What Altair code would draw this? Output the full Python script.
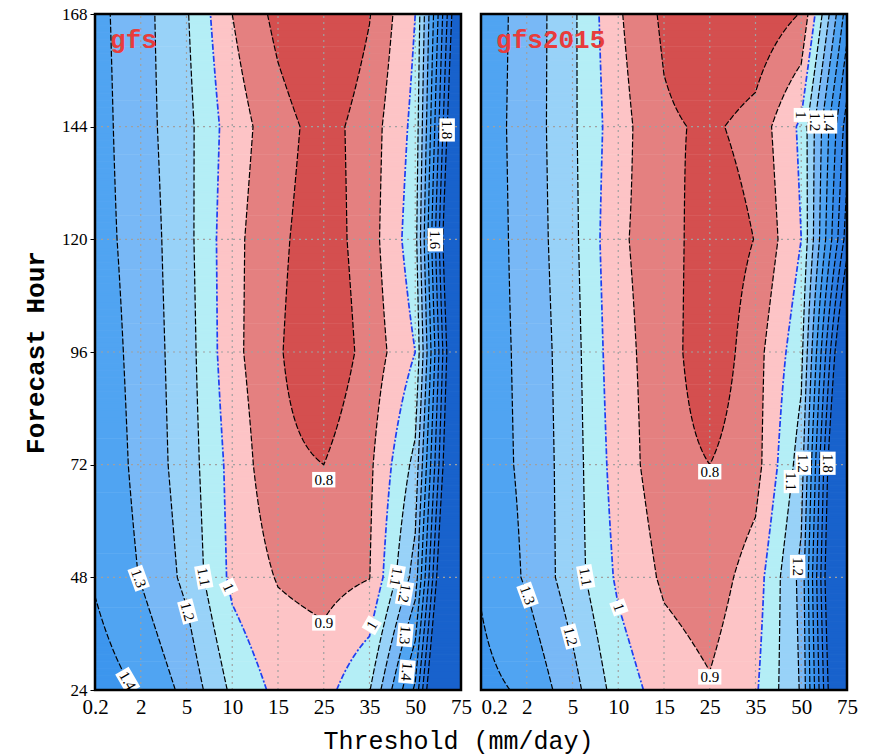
import json
from collections import defaultdict

import numpy as np
import pandas as pd
import altair as alt

alt.data_transformers.disable_max_rows()

# ---------------- data ----------------
threshold_labels = ["0.2", "2", "5", "10", "15", "25", "35", "50", "75"]
forecast_hours = [24, 48, 72, 96, 120, 144, 168]

# panel "gfs": one list per forecast hour, values at each threshold
gfs_f024 = [1.45, 1.39, 1.271, 1.079, 0.974, 0.963, 1.094, 1.52, 2.64]
gfs_f048 = [1.39, 1.295, 1.176, 0.975, 0.893, 0.862, 0.897, 1.245, 2.43]
gfs_f072 = [1.38, 1.27, 1.153, 0.965, 0.824, 0.80, 0.88, 1.13, 2.23]
gfs_f096 = [1.362, 1.262, 1.145, 0.93, 0.81, 0.72, 0.838, 1.0, 2.16]
gfs_f120 = [1.34, 1.257, 1.133, 0.93, 0.82, 0.743, 0.855, 1.06, 2.29]
gfs_f144 = [1.34, 1.24, 1.13, 0.95, 0.84, 0.757, 0.85, 1.03, 2.13]
gfs_f168 = [1.33, 1.24, 1.11, 0.90, 0.77, 0.68, 0.795, 1.0, 2.0]

# panel "gfs2015"
gfs2015_f024 = [1.426, 1.385, 1.236, 1.055, 0.955, 0.91, 0.987, 1.21, 2.21]
gfs2015_f048 = [1.39, 1.287, 1.148, 0.982, 0.884, 0.85, 0.946, 1.23, 2.33]
gfs2015_f072 = [1.35, 1.28, 1.147, 0.951, 0.845, 0.80, 0.86, 1.15, 2.27]
gfs2015_f096 = [1.349, 1.275, 1.14, 0.931, 0.853, 0.724, 0.86, 1.07, 2.06]
gfs2015_f120 = [1.354, 1.264, 1.128, 0.915, 0.852, 0.734, 0.803, 1.0, 1.75]
gfs2015_f144 = [1.348, 1.262, 1.118, 0.939, 0.817, 0.783, 0.835, 1.02, 1.65]
gfs2015_f168 = [1.355, 1.263, 1.12, 0.913, 0.78, 0.70, 0.72, 0.805, 1.45]

contour_levels = [0.8, 0.9, 1.0, 1.1, 1.2, 1.3, 1.4, 1.5, 1.6, 1.7, 1.8]
band_colors = ["#d44f4f", "#e48080", "#fdc4c6", "#b4eef6", "#98d2f8", "#78b8f6",
               "#50a4f2", "#3d96ee", "#3589e9", "#2c7de3", "#2472dc", "#1862cc"]

# contour labels: text, forecast hour, which crossing (L/R) or fixed threshold index, angle
gfs_labels = [
    ("1.8", 143.3, "R", 90), ("1.6", 119.9, "R", 90), ("0.8", 68.8, 5.0, 0),
    ("0.9", 38.3, 5.0, 0), ("1", 45.9, "L", 65), ("1.1", 48.1, "L", 80),
    ("1.2", 40.7, "L", 75), ("1.3", 47.8, "L", 70), ("1.4", 26.0, "L", 60),
    ("1.1", 48.1, "R", 100), ("1.2", 44.6, "R", 100), ("1.3", 35.7, "R", 95),
    ("1.4", 27.9, "R", 95), ("1", 37.8, "R", 300),
]
gfs2015_labels = [
    ("1", 146.5, "R", 90), ("1.2", 145.0, "R", 90), ("1.4", 145.0, "R", 90),
    ("0.8", 70.5, 5.0, 0), ("1.1", 68.4, "R", 90), ("1.2", 72.3, "R", 90),
    ("1.8", 72.3, "R", 90), ("1.3", 44.2, "L", 70), ("1.1", 48.1, "L", 80),
    ("1", 41.6, "L", 70), ("1.2", 35.4, "L", 75), ("1.2", 50.3, "R", 90),
    ("0.9", 26.8, 5.0, 0),
]

gfs_grid = [gfs_f024, gfs_f048, gfs_f072, gfs_f096, gfs_f120, gfs_f144, gfs_f168]
gfs2015_grid = [gfs2015_f024, gfs2015_f048, gfs2015_f072, gfs2015_f096,
                gfs2015_f120, gfs2015_f144, gfs2015_f168]

# ---------------- layout of the two panels on one x scale ----------------
NX = len(threshold_labels)
PANEL_PX = 366.0
GAP_PX = 20.0
UNIT_PX = PANEL_PX / (NX - 1)
OFF = (NX - 1) + GAP_PX / UNIT_PX
panels = [("gfs", gfs_grid, 0.0, gfs_labels), ("gfs2015", gfs2015_grid, OFF, gfs2015_labels)]
xs = np.arange(NX, dtype=float)


def row_values(grid, h):
    g = np.array(grid, dtype=float)
    return np.array([np.interp(h, forecast_hours, g[:, i]) for i in range(g.shape[1])])


def crossings(v, level):
    out = []
    for i in range(len(v) - 1):
        a, b = v[i], v[i + 1]
        if (a - level) * (b - level) < 0:
            out.append(i + (level - a) / (b - a))
    return out


# ---------------- filled bands ----------------
fill_rows = []
dh = 0.5
for name, grid, off, _ in panels:
    for h0 in np.arange(24, 168, dh):
        v = row_values(grid, h0 + dh / 2)
        bps = [0.0, float(NX - 1)]
        for L in contour_levels:
            bps += crossings(v, L)
        bps = sorted(bps)
        segs = []
        for xa, xb in zip(bps[:-1], bps[1:]):
            if xb - xa < 1e-6:
                continue
            vm = np.interp((xa + xb) / 2, xs, v)
            band = int(np.searchsorted(contour_levels, vm, side="right"))
            if segs and segs[-1][2] == band:
                segs[-1][1] = xb
            else:
                segs.append([xa, xb, band])
        for xa, xb, band in segs:
            x2 = min(xb + 0.01, NX - 1.0)
            y2 = min(h0 + dh + 0.15, 168.0)
            fill_rows.append(dict(x=round(xa + off, 4), x2=round(x2 + off, 4),
                                  y=float(h0), y2=float(y2), band=band))
fill_df = pd.DataFrame(fill_rows)


# ---------------- contour lines (marching squares) ----------------
def trace(Z, X, Y, level):
    A = Z >= level
    adj = defaultdict(list)
    pts = {}

    def point(key):
        if key not in pts:
            t, j, i = key
            if t == 0:
                z0, z1 = Z[j, i], Z[j, i + 1]
                f = (level - z0) / (z1 - z0)
                pts[key] = (X[i] + f * (X[i + 1] - X[i]), Y[j])
            else:
                z0, z1 = Z[j, i], Z[j + 1, i]
                f = (level - z0) / (z1 - z0)
                pts[key] = (X[i], Y[j] + f * (Y[j + 1] - Y[j]))

    s = (A[:-1, :-1].astype(int) + A[:-1, 1:] + A[1:, :-1] + A[1:, 1:])
    for j, i in np.argwhere((s > 0) & (s < 4)):
        j, i = int(j), int(i)
        e = []
        if A[j, i] != A[j, i + 1]:
            e.append((0, j, i))
        if A[j, i + 1] != A[j + 1, i + 1]:
            e.append((1, j, i + 1))
        if A[j + 1, i + 1] != A[j + 1, i]:
            e.append((0, j + 1, i))
        if A[j + 1, i] != A[j, i]:
            e.append((1, j, i))
        for k in e:
            point(k)
        for a, b in zip(e[0::2], e[1::2]):
            adj[a].append(b)
            adj[b].append(a)

    used = set()

    def walk(start):
        line = [start]
        cur = start
        while True:
            nxt = None
            for n in adj[cur]:
                ek = frozenset((cur, n))
                if ek not in used:
                    used.add(ek)
                    nxt = n
                    break
            if nxt is None:
                break
            line.append(nxt)
            cur = nxt
        return line

    lines = []
    for k in list(adj):
        if len(adj[k]) == 1 and frozenset((k, adj[k][0])) not in used:
            lines.append(walk(k))
    for k in list(adj):
        for n in adj[k]:
            if frozenset((k, n)) not in used:
                lines.append(walk(k))
    return [[pts[k] for k in ln] for ln in lines if len(ln) > 1]


xf = np.linspace(0, NX - 1, 161)
hf = np.arange(24, 168.001, 1.0)
line_rows = []
lid = 0
for name, grid, off, _ in panels:
    Z = np.array([np.interp(xf, xs, row_values(grid, h)) for h in hf])
    for L in contour_levels:
        for ln in trace(Z, xf, hf, L):
            lid += 1
            for seq, (px, py) in enumerate(ln):
                line_rows.append(dict(x=round(px + off, 4), y=round(py, 3), lid=lid,
                                      seq=seq, blue=abs(L - 1.0) < 1e-9))
line_df = pd.DataFrame(line_rows)
black_df = line_df[~line_df["blue"]].drop(columns="blue")
blue_df = line_df[line_df["blue"]].drop(columns="blue")

# ---------------- label positions on the contours ----------------
lab_rows = []
for name, grid, off, labels in panels:
    for text, hour, side, ang in labels:
        v = row_values(grid, hour)
        cr = crossings(v, float(text))
        if isinstance(side, str) and cr:
            xp = cr[0] if side == "L" else cr[-1]
        else:
            xp = float(side) if not isinstance(side, str) else 4.0
        lab_rows.append(dict(x=xp + off, y=hour, text=text, angle=ang % 360,
                             wide=len(text) > 1))
lab_df = pd.DataFrame(lab_rows)

# ---------------- grid, frames, panel titles ----------------
grid_rows = []
frame_rows = []
title_rows = []
for name, grid, off, _ in panels:
    for k in range(1, NX - 1):
        grid_rows.append(dict(x=off + k, x2=off + k, y=24, y2=168))
    for h in forecast_hours[1:-1]:
        grid_rows.append(dict(x=off, x2=off + NX - 1, y=h, y2=h))
    frame_rows.append(dict(x=off, x2=off + NX - 1, y=24, y2=168))
    title_rows.append(dict(x=off + 0.33, y=160.8, text=name))
grid_df = pd.DataFrame(grid_rows)
frame_df = pd.DataFrame(frame_rows)
title_df = pd.DataFrame(title_rows)

# ---------------- chart ----------------
xscale = alt.Scale(domain=[0, OFF + NX - 1], nice=False, zero=False)
yscale = alt.Scale(domain=[24, 168], nice=False, zero=False)
tick_values = [float(k) for k in range(NX)] + [OFF + k for k in range(NX)]
lab_js = json.dumps(threshold_labels)
label_expr = (f"datum.value < {NX - 1 + 0.2} ? {lab_js}[round(datum.value)] : "
              f"{lab_js}[round(datum.value - {OFF:.6f})]")
label_align = {
    "condition": {"test": f"abs(datum.value - {OFF:.6f}) < 0.01", "value": "left"},
    "value": "center",
}

xaxis = alt.Axis(values=tick_values, labelExpr=label_expr, ticks=False, domain=False,
                 grid=False, labelOverlap=False, labelFlush=False, labelAlign=label_align,
                 labelFont="Liberation Serif", labelFontSize=21, labelColor="black",
                 labelPadding=6, title="Threshold (mm/day)", titleFont="Liberation Mono",
                 titleFontSize=25, titleFontWeight="normal", titleColor="black",
                 titleX=363, titleY=50, titleAlign="center", titleBaseline="middle")
yaxis = alt.Axis(values=forecast_hours, labelFont="Liberation Serif", labelFontSize=17,
                 labelColor="black", tickSize=5, tickColor="black", labelPadding=3,
                 domain=False, grid=False, title="Forecast Hour",
                 titleFont="Liberation Mono", titleFontSize=26, titleFontWeight="bold",
                 titleColor="black", titleX=-60, titleY=338, titleAngle=270,
                 titleAlign="center", titleBaseline="middle")

X = alt.X("x:Q", scale=xscale, axis=xaxis)
Y = alt.Y("y:Q", scale=yscale, axis=yaxis)

band_scale = alt.Scale(domain=list(range(len(band_colors))), range=band_colors)

fills = alt.Chart(fill_df).mark_rect().encode(
    x=X, x2="x2:Q", y=Y, y2="y2:Q",
    fill=alt.Fill("band:O", scale=band_scale, legend=None),
)

grid_layer = alt.Chart(grid_df).mark_rule(color="#a0a0a0", strokeWidth=1.2,
                                          strokeDash=[2, 4]).encode(
    x=X, x2="x2:Q", y=Y, y2="y2:Q")

black_lines = alt.Chart(black_df).mark_line(color="black", strokeWidth=1.2,
                                            strokeDash=[6, 2]).encode(
    x=X, y=Y, detail="lid:N", order="seq:Q")

blue_lines = alt.Chart(blue_df).mark_line(color="#1f3ff0", strokeWidth=1.7,
                                          strokeDash=[6, 2, 2, 2]).encode(
    x=X, y=Y, detail="lid:N", order="seq:Q")

box_wide = alt.Chart(lab_df[lab_df["wide"]]).mark_point(
    shape="M-1.5,-1L1.5,-1L1.5,1L-1.5,1Z", filled=True, color="white", opacity=1,
    size=240).encode(
    x=X, y=Y, angle=alt.Angle("angle:Q", scale=None))
box_narrow = alt.Chart(lab_df[~lab_df["wide"]]).mark_point(
    shape="M-0.9,-1L0.9,-1L0.9,1L-0.9,1Z", filled=True, color="white", opacity=1,
    size=240).encode(
    x=X, y=Y, angle=alt.Angle("angle:Q", scale=None))

lab_text = alt.Chart(lab_df).mark_text(font="Liberation Serif", fontSize=15,
                                       color="black", align="center",
                                       baseline="middle").encode(
    x=X, y=Y, text="text:N", angle=alt.Angle("angle:Q", scale=None))

frames = alt.Chart(frame_df).mark_rect(fillOpacity=0, stroke="black",
                                       strokeWidth=2.5).encode(
    x=X, x2="x2:Q", y=Y, y2="y2:Q")

titles = alt.Chart(title_df).mark_text(font="Liberation Mono", fontSize=26,
                                       fontWeight="bold", color="#e83c3c",
                                       align="left", baseline="alphabetic").encode(
    x=X, y=Y, text="text:N")

chart = alt.layer(fills, grid_layer, black_lines, blue_lines, box_wide, box_narrow,
                  lab_text, frames, titles).properties(
    width=752, height=676,
    autosize=alt.AutoSizeParams(type="none"),
    padding={"left": 95, "top": 14, "right": 23, "bottom": 65},
).configure_view(strokeWidth=0)

chart.save("out.html", embed_options={"renderer": "svg", "actions": False})
